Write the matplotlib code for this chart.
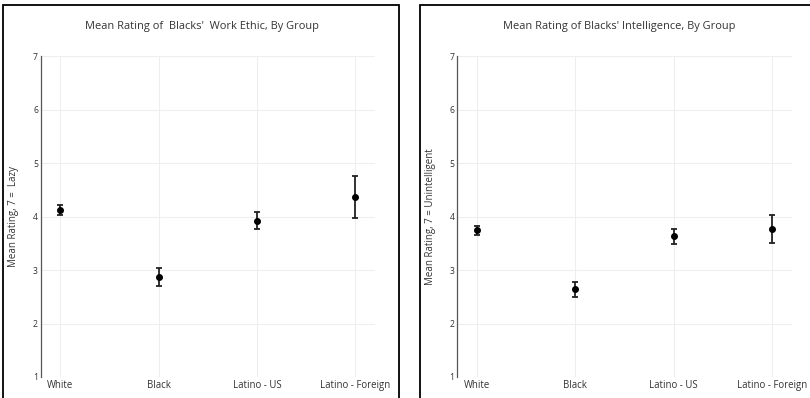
import matplotlib
matplotlib.use("Agg")
import matplotlib.pyplot as plt
from matplotlib.patches import Rectangle

plt.rcParams["font.family"] = ["Open Sans", "DejaVu Sans"]

groups = ["White", "Black", "Latino - US", "Latino - Foreign"]

# work ethic (7 = lazy)
lazy_mean = [4.12, 2.87, 3.92, 4.36]
lazy_err = [0.10, 0.16, 0.16, 0.39]

# intelligence (7 = unintelligent)
intel_mean = [3.745, 2.64, 3.63, 3.76]
intel_err = [0.085, 0.14, 0.14, 0.26]

panels = [
    ("Mean Rating of  Blacks'  Work Ethic, By Group", "Mean Rating, 7 =  Lazy", lazy_mean, lazy_err),
    ("Mean Rating of Blacks' Intelligence, By Group", "Mean Rating, 7 = Unintelligent", intel_mean, intel_err),
]

W, H = 810, 398
fig = plt.figure(figsize=(W / 100, H / 100), dpi=100)

# pixel layout for each panel: (axis left, axis right, title x, ylabel x, box left, box right)
layout = [
    (40.7, 375.0, 202, 14, 3, 399),
    (457.3, 791.7, 619, 430, 420, 830),
]
y_top, y_bot = 56.0, 377.0

for (title, ylabel, means, errs), (xl, xr, tx, lx, bl, br) in zip(panels, layout):
    # frame around each panel
    fig.patches.append(Rectangle((bl / W, -0.1), (br - bl) / W, 1.1 - 5 / H,
                                 transform=fig.transFigure, fill=False,
                                 edgecolor="black", linewidth=1.3, clip_on=False))

    ax = fig.add_axes([xl / W, 1 - y_bot / H, (xr - xl) / W, (y_bot - y_top) / H])
    ax.set_facecolor("none")
    x = range(len(groups))
    ax.errorbar(x, means, yerr=errs, fmt="o", color="black", ecolor="#222222",
                markersize=4, elinewidth=1.3, capsize=2.3, capthick=1.3, zorder=3)

    ax.set_xlim(-0.2, 3.2)
    ax.set_ylim(1, 7)
    ax.set_xticks(list(x))
    ax.set_xticklabels(groups)
    ax.set_yticks(range(1, 8))
    ax.grid(True, color="#eeeeee", linewidth=0.8)
    ax.set_axisbelow(True)
    for s in ["top", "right", "bottom"]:
        ax.spines[s].set_visible(False)
    ax.spines["left"].set_color("#555555")
    ax.spines["left"].set_linewidth(0.9)
    ax.tick_params(axis="x", length=0, pad=2, labelsize=6.9, labelcolor="#333333")
    ax.tick_params(axis="y", length=0, pad=2, labelsize=6.2, labelcolor="#333333")

    fig.text(tx / W, 1 - 27 / H, title, ha="center", va="center",
             fontsize=7.9, color="#333333")
    fig.text(lx / W, 1 - 216.5 / H, ylabel, ha="center", va="center",
             rotation=90, fontsize=7.0, color="#333333")

fig.savefig("out.png", dpi=100)
